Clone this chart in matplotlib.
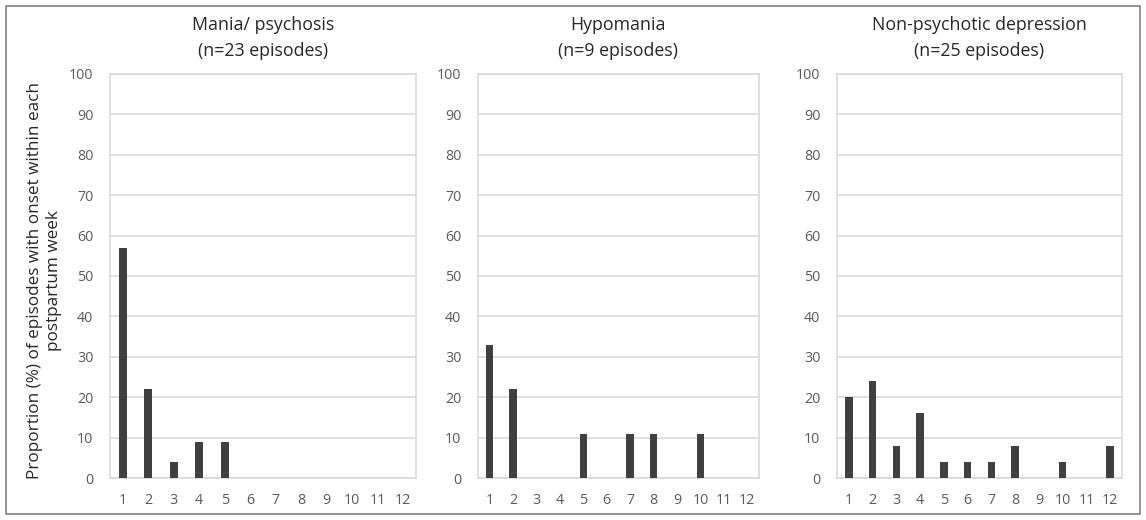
import matplotlib
matplotlib.use("Agg")
import matplotlib.pyplot as plt
import numpy as np

weeks = [str(i) for i in range(1, 13)]
titles = ["Mania/ psychosis\n(n=23 episodes)",
          "Hypomania\n(n=9 episodes)",
          "Non-psychotic depression\n(n=25 episodes)"]
mania = [57, 22, 4, 9, 9, 0, 0, 0, 0, 0, 0, 0]
hypomania = [33, 22, 0, 0, 11, 0, 11, 11, 0, 11, 0, 0]
depression = [20, 24, 8, 16, 4, 4, 4, 8, 0, 4, 0, 8]
ylabel = "Proportion (%) of episodes with onset within each\npostpartum week"

plt.rcParams['font.family'] = ['Open Sans', 'DejaVu Sans']
txt = '#595959'
grid = '#d9d9d9'

W, H = 1146, 520
fig = plt.figure(figsize=(W / 100, H / 100), dpi=100)

# outer frame
fig.patches.append(plt.Rectangle((6 / W, 6 / H), 1 - 12 / W, 1 - 12 / H,
                                 transform=fig.transFigure, fill=False,
                                 edgecolor='#808080', linewidth=1.2))

# axes boxes in pixels: left, right
boxes = [(110, 416), (478, 759), (837, 1122)]
top, bottom = 74, 478
series = [mania, hypomania, depression]

x = np.arange(len(weeks))
for i, ((l, r), vals, t) in enumerate(zip(boxes, series, titles)):
    ax = fig.add_axes([l / W, 1 - bottom / H, (r - l) / W, (bottom - top) / H])
    ax.bar(x, vals, width=0.32, color='#404040', zorder=3)
    ax.set_xlim(-0.5, 11.5)
    ax.set_ylim(0, 100)
    ax.set_yticks(range(0, 101, 10))
    ax.set_xticks(x)
    ax.set_xticklabels(weeks)
    ax.grid(axis='y', color=grid, linewidth=1.2, zorder=0)
    for s in ax.spines.values():
        s.set_color(grid)
        s.set_linewidth(1.2)
    ax.tick_params(length=0, colors=txt, labelsize=10.3, pad=11)
    ax.tick_params(axis='y', pad=12)
    ax.set_title(t, fontsize=12.8, color='#262626', pad=13, linespacing=1.55)
    if i == 0:
        ax.set_ylabel(ylabel, fontsize=12.3, color='#262626', linespacing=1.25)
        ax.yaxis.set_label_coords(-0.158, 0.49)

fig.savefig("out.png", dpi=100)
